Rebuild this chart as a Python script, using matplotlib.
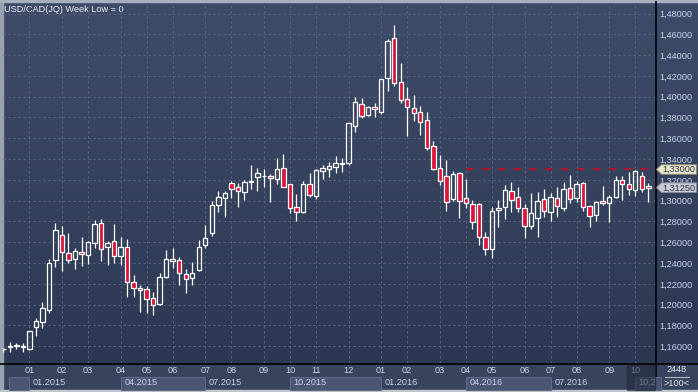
import numpy as np
import matplotlib
matplotlib.use("Agg")
import matplotlib.pyplot as plt
from matplotlib.colors import LinearSegmentedColormap
from matplotlib.patches import Rectangle, Polygon
from matplotlib.transforms import Bbox, TransformedBbox

# === weekly USD/CAD candles (oldest first) ===

opens = [1.1572, 1.1592, 1.1605, 1.1606, 1.1577, 1.1783, 1.1831, 1.1949, 1.2430, 1.2667,
         1.2500, 1.2437, 1.2510, 1.2478, 1.2590, 1.2783, 1.2558, 1.2610, 1.2465, 1.2552,
         1.2215, 1.2158, 1.2148, 1.2067, 1.2004, 1.2263, 1.2423, 1.2430, 1.2295, 1.2254,
         1.2334, 1.2574, 1.2687, 1.2962, 1.3023, 1.3167, 1.3129, 1.3081, 1.3183, 1.3225,
         1.3236, 1.3235, 1.3206, 1.3312, 1.3158, 1.2937, 1.2894, 1.3158, 1.3048, 1.3288,
         1.3302, 1.3327, 1.3357, 1.3360, 1.3721, 1.3927, 1.3827, 1.3898, 1.3856, 1.4177,
         1.4562, 1.4138, 1.3978, 1.3888, 1.3850, 1.3773, 1.3523, 1.3312, 1.3233, 1.3016,
         1.3263, 1.3023, 1.2965, 1.2965, 1.2648, 1.2533, 1.2911, 1.2937, 1.3096, 1.3033,
         1.2927, 1.2760, 1.2831, 1.3019, 1.2894, 1.3023, 1.2927, 1.3119, 1.3023, 1.3167,
         1.2949, 1.2865, 1.2994, 1.2975, 1.3038, 1.3199, 1.3158, 1.3103, 1.3237, 1.3145]
highs = [1.1585, 1.1644, 1.1632, 1.1632, 1.1750, 1.1872, 1.2029, 1.2439, 1.2783, 1.2757,
         1.2687, 1.2542, 1.2648, 1.2612, 1.2814, 1.2821, 1.2612, 1.2773, 1.2654, 1.2629,
         1.2286, 1.2189, 1.2180, 1.2125, 1.2302, 1.2526, 1.2545, 1.2462, 1.2340, 1.2408,
         1.2622, 1.2763, 1.2997, 1.3093, 1.3093, 1.3189, 1.3170, 1.3199, 1.3343, 1.3312,
         1.3305, 1.3257, 1.3408, 1.3449, 1.3162, 1.3062, 1.3189, 1.3263, 1.3305, 1.3343,
         1.3375, 1.3430, 1.3408, 1.3750, 1.3994, 1.3985, 1.3911, 1.3937, 1.4172, 1.4552,
         1.4689, 1.4327, 1.4090, 1.4016, 1.3911, 1.3850, 1.3577, 1.3439, 1.3391, 1.3286,
         1.3279, 1.3209, 1.3007, 1.2981, 1.2696, 1.2937, 1.3007, 1.3151, 1.3177, 1.3129,
         1.2968, 1.3071, 1.3081, 1.3112, 1.3071, 1.3129, 1.3183, 1.3247, 1.3189, 1.3183,
         1.2959, 1.2997, 1.3141, 1.3055, 1.3233, 1.3233, 1.3279, 1.3295, 1.3279, 1.3173]
lows = [1.1548, 1.1548, 1.1574, 1.1545, 1.1564, 1.1702, 1.1779, 1.1917, 1.2360, 1.2327,
        1.2404, 1.2340, 1.2372, 1.2391, 1.2545, 1.2420, 1.2382, 1.2404, 1.2382, 1.2077,
        1.2077, 1.1933, 1.1917, 1.1898, 1.1997, 1.2257, 1.2350, 1.2189, 1.2110, 1.2189,
        1.2327, 1.2545, 1.2663, 1.2894, 1.2846, 1.3026, 1.2935, 1.3007, 1.3110, 1.3096,
        1.3135, 1.2990, 1.3158, 1.3127, 1.2885, 1.2808, 1.2885, 1.3038, 1.3016, 1.3209,
        1.3231, 1.3263, 1.3279, 1.3343, 1.3663, 1.3792, 1.3819, 1.3808, 1.3831, 1.4058,
        1.4106, 1.3937, 1.3625, 1.3769, 1.3632, 1.3487, 1.3295, 1.3154, 1.2904, 1.3000,
        1.2838, 1.2930, 1.2725, 1.2574, 1.2478, 1.2446, 1.2750, 1.2821, 1.2894, 1.2894,
        1.2638, 1.2728, 1.2654, 1.2846, 1.2808, 1.2846, 1.2904, 1.2981, 1.2990, 1.2904,
        1.2744, 1.2808, 1.2959, 1.2798, 1.3023, 1.3007, 1.3055, 1.3045, 1.3087, 1.2990]
closes = [1.1575, 1.1600, 1.1610, 1.1593, 1.1747, 1.1843, 1.1965, 1.2398, 1.2718, 1.2510,
          1.2430, 1.2516, 1.2492, 1.2606, 1.2773, 1.2533, 1.2590, 1.2468, 1.2552, 1.2221,
          1.2158, 1.2141, 1.2052, 1.1997, 1.2263, 1.2437, 1.2437, 1.2302, 1.2244, 1.2302,
          1.2552, 1.2638, 1.2956, 1.3033, 1.3071, 1.3117, 1.3090, 1.3177, 1.3187, 1.3263,
          1.3240, 1.3215, 1.3305, 1.3135, 1.2927, 1.2894, 1.3158, 1.3055, 1.3295, 1.3312,
          1.3334, 1.3360, 1.3362, 1.3744, 1.3946, 1.3817, 1.3898, 1.3879, 1.4167, 1.4536,
          1.4129, 1.3968, 1.3904, 1.3840, 1.3754, 1.3504, 1.3302, 1.3192, 1.2992, 1.3257,
          1.2994, 1.2975, 1.2798, 1.2648, 1.2533, 1.2901, 1.2927, 1.3103, 1.3007, 1.2927,
          1.2760, 1.2879, 1.2997, 1.2901, 1.3033, 1.2952, 1.3110, 1.3013, 1.3161, 1.2937,
          1.2856, 1.2985, 1.2975, 1.3031, 1.3199, 1.3158, 1.3110, 1.3286, 1.3112, 1.3125]

# first weekly bar of each month
month_pos = [4, 9, 13, 18, 22, 26, 31, 35, 40, 44, 48, 53, 58, 62, 67, 71, 75, 80, 84, 88, 93, 97]
month_labels = ['01', '02', '03', '04', '05', '06', '07', '08', '09', '10', '11', '12',
                '01', '02', '03', '04', '05', '06', '07', '08', '09', '10']
quarter_pos = [4, 18, 31, 44, 58, 71, 84, 97]
quarter_labels = ['01.2015', '04.2015', '07.2015', '10.2015', '01.2016', '04.2016', '07.2016', '10.2016']

price_ticks = [1.16, 1.18, 1.20, 1.22, 1.24, 1.26, 1.28, 1.30, 1.32, 1.34,
               1.36, 1.38, 1.40, 1.42, 1.44, 1.46, 1.48]
level_price = 1.33
level_start = 71
last_price = 1.3125

# === colours / font ===
FONT = 'Liberation Sans'
FS = 6.6
TXT = '#c9d5ec'
RED = '#dc143a'
W, H = 698, 392

plt.rcParams['font.family'] = [FONT, 'DejaVu Sans']

fig = plt.figure(figsize=(W / 100, H / 100), dpi=100)

# background layer in pixel coordinates
bg = fig.add_axes([0, 0, 1, 1], zorder=0)
bg.set_xlim(0, W)
bg.set_ylim(H, 0)
bg.axis('off')
cmap = LinearSegmentedColormap.from_list('bg', ['#3f4c69', '#2c3853'])
grad = np.linspace(0, 1, 363)[:, None]
bg.imshow(grad, cmap=cmap, extent=[0, W, 363, 0], aspect='auto')
bg.add_patch(Rectangle((0, 363), W, 27, color='#38435d'))
bg.add_patch(Rectangle((0, 0), 2.5, H, color='#9aa2b2'))
bg.add_patch(Rectangle((0, 0), W, 1.5, color='#a9b0bd'))
bg.add_patch(Rectangle((0, 389.5), W, 3, color='#c0c4cc'))
bg.plot([0, W], [363.5, 363.5], color='black', lw=1.2)
bg.plot([655.5, 655.5], [1.5, 389.5], color='black', lw=1.2)
bg.text(4, 9, 'USD/CAD(JQ) Week Low = 0', color='#eef1f6', fontsize=FS, va='center', ha='left')
bg.text(677, 370, '2448', color='#e2e8f2', fontsize=FS, va='center', ha='center')
bg.plot([665, 689], [376.8, 376.8], color='#aeb6c6', lw=0.8)
bg.text(677, 383, '>100<', color='#e2e8f2', fontsize=FS, va='center', ha='center')

# main chart
ax = fig.add_axes([3 / W, 29 / H, 652 / W, 360 / H], zorder=1)
ax.patch.set_alpha(0)
ax.set_xlim(-0.05, 100.03)
ax.set_ylim(1.1439, 1.4901)
for s in ax.spines.values():
    s.set_visible(False)

ax.yaxis.tick_right()
ax.set_yticks(price_ticks)
ax.set_yticklabels([f'{v:.5f}'.replace('.', ',') for v in price_ticks])
ax.set_xticks(month_pos)
ax.set_xticklabels(month_labels)
ax.tick_params(axis='both', length=0, labelsize=FS, labelcolor=TXT)
ax.tick_params(axis='y', pad=3)
ax.tick_params(axis='x', pad=2.4)
ax.grid(True, color='#56637f', lw=0.75, linestyle=(0, (2.2, 2.6)))

# quarter row under the months, every other quarter in a box
xa = ax.get_xaxis_transform()
clip = TransformedBbox(Bbox([[0, 0], [655 / W, 1]]), fig.transFigure)
box_spans = [(0.9, 4), (18, 31), (44, 58), (71, 84), (97, 101)]
for a, b in box_spans:
    r = Rectangle((a, -0.075), b - a, 0.037, transform=xa, clip_on=False,
                  facecolor='#4a5672', edgecolor='#5d6985', lw=0.8, zorder=0.5)
    ax.add_patch(r)
for p, lab in zip(quarter_pos, quarter_labels):
    t = ax.text(p + 0.55, -0.055, lab, transform=xa, color=TXT, fontsize=FS,
                va='center', ha='left')
    t.set_clip_on(True)
    t.set_clip_box(clip)

# candles (wick split so hollow bodies stay empty)
x = np.arange(len(opens))
o = np.array(opens)
c = np.array(closes)
hi = np.array(highs)
lo = np.array(lows)
body_top = np.maximum(o, c)
body_bot = np.minimum(o, c)
up = c >= o
ax.vlines(x, body_top, hi, color='white', lw=0.9, zorder=3)
ax.vlines(x, lo, body_bot, color='white', lw=0.9, zorder=3)
heights = np.maximum(body_top - body_bot, 0.0003)
ax.bar(x[up], heights[up], bottom=body_bot[up], width=0.68,
       facecolor='none', edgecolor='white', lw=0.9, zorder=4)
ax.bar(x[~up], heights[~up], bottom=body_bot[~up], width=0.68,
       facecolor=RED, edgecolor='white', lw=0.9, zorder=4)

# resistance level
ax.hlines(level_price, level_start, 100.03, color='#a8182c', lw=1.5,
          linestyle=(0, (3.8, 3.8)), zorder=2)

# overlay: price tags and the dimmed "future" strip
top = fig.add_axes([0, 0, 1, 1], zorder=2)
top.set_xlim(0, W)
top.set_ylim(H, 0)
top.axis('off')
top.patch.set_alpha(0)
top.add_patch(Rectangle((626.7, 364.5), 28.3, 25, color='#1f2638', alpha=0.55))


def price_tag(price, face, edge):
    y = H - ax.transData.transform((0, price))[1]
    pts = [(656.5, y), (661.5, y - 4.8), (696.5, y - 4.8), (696.5, y + 4.8), (661.5, y + 4.8)]
    top.add_patch(Polygon(pts, closed=True, facecolor=face, edgecolor=edge, lw=0.7))
    top.text(679, y + 0.3, f'{price:.5f}'.replace('.', ','), color='#2a3244',
             fontsize=FS, va='center', ha='center')


price_tag(level_price, '#e9e6c9', '#8e8c74')
price_tag(last_price, '#c7cbd4', '#8a909c')

fig.savefig('out.png', dpi=100)
